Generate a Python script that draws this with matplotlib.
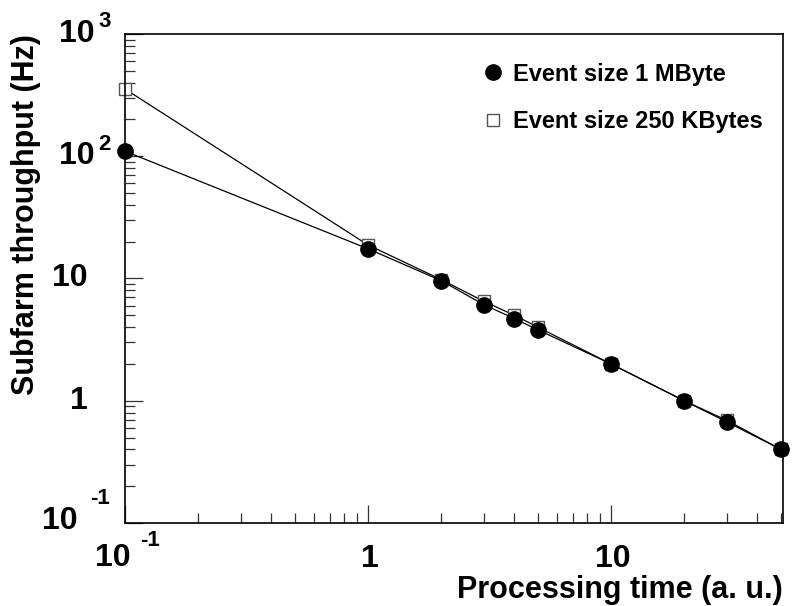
import matplotlib.pyplot as plt
import matplotlib.transforms as mtransforms
from matplotlib.ticker import FixedLocator, NullFormatter, LogLocator

plt.rcParams['font.family'] = ['Liberation Sans', 'DejaVu Sans']
plt.rcParams['font.weight'] = 'bold'

# processing time (a. u.)
proc_time = [0.1, 1, 2, 3, 4, 5, 10, 20, 30, 50]
# subfarm throughput (Hz)
rate_1mb = [110, 17.5, 9.6, 6.1, 4.7, 3.8, 2.0, 1.0, 0.67, 0.40]
rate_250kb = [355, 18.8, 9.8, 6.5, 5.0, 4.0, 2.0, 1.0, 0.69, 0.40]

# tick labels: (value, mantissa, exponent)
x_ticks = [(0.1, '10', '-1'), (1, '1', ''), (10, '10', '')]
y_ticks = [(0.1, '10', '-1'), (1, '1', ''), (10, '10', ''),
           (100, '10', '2'), (1000, '10', '3')]

fig = plt.figure(figsize=(7.94, 6.06), dpi=100)
ax = fig.add_axes([125 / 794, 1 - 523 / 606, 658 / 794, 489 / 606])

sq, = ax.plot(proc_time, rate_250kb, color='black', lw=0.9, marker='s',
              markersize=9, markerfacecolor='white', markeredgecolor='#555555',
              markeredgewidth=1.0, zorder=2, clip_on=False)
ci, = ax.plot(proc_time, rate_1mb, color='black', lw=0.9, marker='o',
              markersize=11, markerfacecolor='black', markeredgecolor='black',
              zorder=3, clip_on=False)

ax.set_xscale('log')
ax.set_yscale('log')
ax.set_xlim(0.1, 51)
ax.set_ylim(0.1, 1000)

ax.xaxis.set_major_locator(FixedLocator([t[0] for t in x_ticks]))
ax.xaxis.set_major_formatter(NullFormatter())
ax.xaxis.set_minor_locator(LogLocator(base=10, subs=range(2, 10), numticks=20))
ax.xaxis.set_minor_formatter(NullFormatter())
ax.yaxis.set_major_locator(FixedLocator([t[0] for t in y_ticks]))
ax.yaxis.set_major_formatter(NullFormatter())
ax.yaxis.set_minor_locator(LogLocator(base=10, subs=range(2, 10), numticks=20))
ax.yaxis.set_minor_formatter(NullFormatter())

ax.tick_params(which='both', direction='in', top=False, right=False,
               width=0.9, color='#333333')
ax.tick_params(which='major', length=13)
ax.tick_params(which='minor', length=7)
for s in ax.spines.values():
    s.set_linewidth(1.2)


def px(dx, dy, base):
    # offsets given in pixels (dpi 100)
    return mtransforms.offset_copy(base, fig=fig, x=dx * 0.72, y=dy * 0.72,
                                   units='points')


# ROOT style tick labels, exponent raised to the right
ytrans = mtransforms.blended_transform_factory(ax.transAxes, ax.transData)
for val, man, ex in y_ticks:
    if ex == '-1':
        dx, dy = -47, 2
    elif ex:
        dx, dy = -30, 0
    else:
        dx, dy = -37, 0
    ax.text(0, val, man, transform=px(dx, dy, ytrans), ha='right',
            va='center', fontsize=23, fontweight='bold')
    if ex:
        ax.text(0, val, ex, transform=px(dx + 12 if ex == '-1' else dx + 3,
                                         dy + 22 if ex == '-1' else dy + 12,
                                         ytrans),
                ha='left', va='center', fontsize=16, fontweight='bold')

xtrans = mtransforms.blended_transform_factory(ax.transData, ax.transAxes)
for val, man, ex in x_ticks:
    if ex:
        ax.text(val, 0, man, transform=px(-12, -35, xtrans), ha='center',
                va='center', fontsize=23, fontweight='bold')
        ax.text(val, 0, ex, transform=px(15, -17, xtrans), ha='left',
                va='center', fontsize=16, fontweight='bold')
    else:
        ax.text(val, 0, man, transform=px(2, -36, xtrans), ha='center',
                va='center', fontsize=23, fontweight='bold')

ax.set_xlabel('Processing time (a. u.)', fontsize=22, fontweight='bold',
              loc='right')
ax.xaxis.set_label_coords(1.0, -0.107)
ax.set_ylabel('Subfarm throughput (Hz)', fontsize=22, fontweight='bold',
              loc='top')
ax.yaxis.set_label_coords(-0.128, 1.0)

ax.legend([ci, sq], ['Event size 1 MByte', 'Event size 250 KBytes'],
          loc='upper left', bbox_to_anchor=(0.513, 0.985), frameon=False,
          handlelength=0.8, handletextpad=0.45, labelspacing=1.05,
          numpoints=1, prop={'weight': 'bold', 'size': 17})
for h in ax.get_legend().get_lines():
    h.set_linestyle('none')

fig.savefig('out.png', dpi=100)
